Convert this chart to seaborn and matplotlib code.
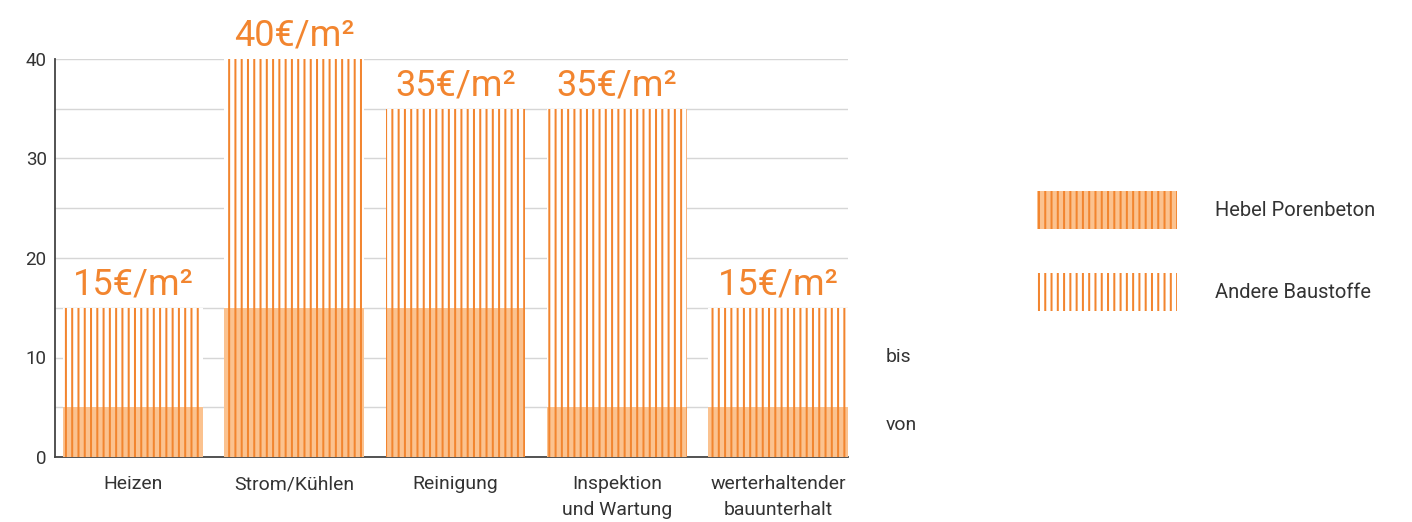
import matplotlib
matplotlib.use("Agg")
import matplotlib.pyplot as plt
import matplotlib.patches as mpatches
import seaborn as sns
import numpy as np

categories = ["Heizen", "Strom/Kühlen", "Reinigung", "Inspektion\nund Wartung", "werterhaltender\nbauunterhalt"]
von_values = [5, 15, 15, 5, 5]
bis_values = [15, 40, 35, 35, 15]
label_texts = ["15€/m²", "40€/m²", "35€/m²", "35€/m²", "15€/m²"]
series_names = ["Hebel Porenbeton", "Andere Baustoffe"]
yticks = [0, 10, 20, 30, 40]

ORANGE = "#f2852f"
FILL = "#fbc28f"
TEXT = "#333333"

DPI = 113
S = 100.0 / DPI  # keeps the pixel sizes designed at 100 dpi


def fs(v):
    return v * S


sns.set_theme(style="white")
plt.rcParams['font.family'] = ['Roboto', 'DejaVu Sans']
plt.rcParams['hatch.linewidth'] = fs(1.45)

fig = plt.figure(figsize=(1412 / DPI, 522 / DPI), dpi=DPI)
ax = fig.add_axes([55/1412, 1 - 457/522, (848 - 55)/1412, (457 - 59)/522])

sns.barplot(x=categories, y=bis_values, ax=ax, color="white", saturation=1,
            width=0.867, edgecolor=ORANGE, linewidth=0, hatch="|||", zorder=2)
bis_container = ax.containers[0]
sns.barplot(x=categories, y=von_values, ax=ax, color=FILL, saturation=1,
            width=0.867, edgecolor=ORANGE, linewidth=0, hatch="|||", zorder=3)

ax.bar_label(bis_container, labels=label_texts, padding=fs(4), fontsize=fs(26),
             color=ORANGE, fontweight="normal")

ax.set_ylim(0, 40)
ax.set_xlim(-0.483, 4.433)
ax.set_yticks(yticks)
ax.set_yticks([5, 15, 25, 35], minor=True)
ax.grid(axis="y", which="both", color="#d6d6d6", linewidth=fs(1), zorder=0)
ax.set_axisbelow(True)
ax.tick_params(axis="both", length=0, colors=TEXT)
ax.tick_params(axis="x", pad=fs(13), labelsize=fs(14))
ax.tick_params(axis="y", pad=fs(6), labelsize=fs(13.5))
for lab in ax.get_xticklabels():
    lab.set_linespacing(1.6)
sns.despine(ax=ax, top=True, right=True)
ax.spines["left"].set_color("#444444")
ax.spines["bottom"].set_color("#444444")
ax.spines["left"].set_linewidth(fs(1.3))
ax.spines["bottom"].set_linewidth(fs(1.3))
ax.set_xlabel("")
ax.set_ylabel("")

ax.text(1.048, 10, "bis", transform=ax.get_yaxis_transform(), fontsize=fs(14),
        color=TEXT, va="center", ha="left")
ax.text(1.048, 3.2, "von", transform=ax.get_yaxis_transform(), fontsize=fs(14),
        color=TEXT, va="center", ha="left")

handles = [
    mpatches.Patch(facecolor=FILL, edgecolor=ORANGE, hatch="|||", linewidth=0, label=series_names[0]),
    mpatches.Patch(facecolor="white", edgecolor=ORANGE, hatch="|||", linewidth=0, label=series_names[1]),
]
fig.legend(handles=handles, loc="upper left", bbox_to_anchor=(1027/1412, 1 - 181/522),
           frameon=False, fontsize=fs(14.5), handlelength=6.95, handleheight=2.5,
           handletextpad=1.9, labelspacing=2.2, borderpad=0, labelcolor=TEXT)

fig.savefig("out.png", dpi=DPI)
